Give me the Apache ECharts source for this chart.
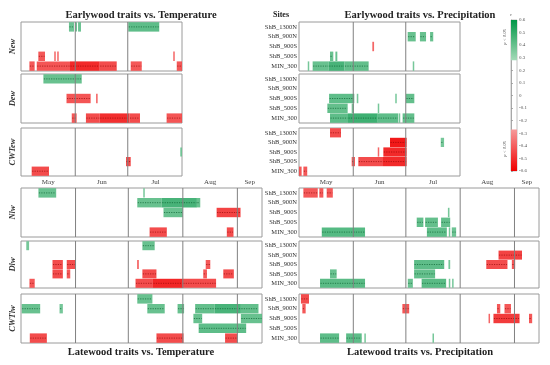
<!DOCTYPE html>
<html><head><meta charset="utf-8">
<script src="https://cdn.jsdelivr.net/npm/echarts@6.0.0/dist/echarts.min.js"></script>
<style>html,body{margin:0;padding:0;background:#fff}#c{width:550px;height:365px}</style>
</head><body><div id="c"></div>
<script>
// ---------- data ----------
const sites = ['ShB_1300N','ShB_900N','ShB_900S','ShB_500S','MIN_300'];
const months = ['May','Jun','Jul','Aug','Sep'];
const monthMid = [15.5, 46, 76.5, 107.5, 130];   // days since May 1
const monthBounds = [31, 61, 92, 123];
const earlyMaxDay = 92, lateMaxDay = 137;
const traitNames = ['New','Dew','CWTew','Nlw','Dlw','CWTlw'];
const titles = ['Earlywood traits vs. Temperature','Earlywood traits vs. Precipitation','Latewood traits vs. Temperature','Latewood traits vs. Precipitation'];
const cbarMin = -0.6, cbarMax = 0.6, cbarStep = 0.1;
const cbarBands = [[0.5, 0.28, 0.6], [0.5, -0.6, -0.27]];

// segments: [startDay, endDay, siteIndex, r]
const tempNew = [[27.4,30.3,0,0.42],[31,32,0,0.42],[32.6,34.3,0,0.42],[61.3,79,0,0.45],
 [9.9,13.7,3,-0.45],[19,19.6,3,-0.42],[20.7,21.5,3,-0.42],[87,87.8,3,-0.42],
 [4.8,7.8,4,-0.45],[9,28,4,-0.46],[28,45,4,-0.56],[45,54.7,4,-0.48],[62.7,69,4,-0.45],[89,92,4,-0.45]];
const tempDew = [[12.8,34.7,0,0.43],
 [26,39.8,2,-0.46],[42.9,43.8,2,-0.42],
 [29,31.8,4,-0.45],[37.1,45,4,-0.48],[45,62,4,-0.55],[62,68,4,-0.48],[83.2,92,4,-0.46]];
const tempCWTew = [[91,92,2,0.4],[60,62.7,3,-0.48],[6.1,16,4,-0.48]];
const tempNlw = [[9.9,20,0,0.43],[69.5,70,0,0.4],
 [66.1,80,1,0.43],[80,100,1,0.5],[100,101.9,1,0.43],
 [81,92,2,0.43],[111.2,124.8,2,-0.5],
 [73.1,82.9,4,-0.48],[117,120.8,4,-0.48]];
const tempDlw = [[3,4.6,0,0.4],[69,76,0,0.43],
 [17.9,23.8,2,-0.48],[26,30.9,2,-0.48],[66,67,2,-0.42],[105,107.6,2,-0.45],
 [17.9,23.8,3,-0.48],[26,28,3,-0.45],[69,77,3,-0.48],[103.6,105.7,3,-0.45],[115,121,3,-0.48],
 [4.8,7.8,4,-0.45],[65.1,75,4,-0.48],[75,92,4,-0.57],[92,110.9,4,-0.48]];
const tempCWTlw = [[66.1,74.7,0,0.43],
 [0.4,10.9,1,0.43],[21.9,23.8,1,0.4],[71.8,81.7,1,0.43],[89,92.7,1,0.43],[99,110,1,0.44],[110,125,1,0.5],[125,135,1,0.44],
 [98,103,2,0.43],[125,137,2,0.43],
 [101,128,3,0.45],
 [5,14.7,4,-0.48],[77,92.4,4,-0.48],[116,123,4,-0.48]];
const precEw1 = [[62.1,66.7,1,0.43],[69.1,72.6,1,0.43],[74.9,76.7,1,0.43],
 [41.9,42.9,2,-0.42],
 [17.7,19.6,3,0.43],[20.8,21.9,3,0.43],
 [5,5.7,4,0.4],[7.8,17,4,0.43],[17,26,4,0.5],[26,39.8,4,0.44],[65,65.7,4,0.4]];
const precEw2 = [[17.2,31.6,2,0.45],[33,33.9,2,0.4],[55,55.8,2,0.4],[61.1,65.9,2,0.44],
 [16.2,27.8,3,0.44],[30.1,31.4,3,0.4],[45,45.7,3,0.4],
 [17.7,28,4,0.45],[28,45,4,0.52],[45,56.7,4,0.45],[57,57.6,4,0.4],[59.2,65.9,4,0.44]];
const precEw3 = [[17.7,24,0,-0.48],
 [52,61.5,1,-0.6],[81,82.9,1,0.4],
 [45,45.7,2,-0.42],[48.2,61.5,2,-0.56],
 [30.1,32,3,-0.45],[33.9,48,3,-0.48],[48,61.5,3,-0.56],
 [0,1.5,4,-0.45],[2.5,4.7,4,-0.45]];
const precLw1 = [[2.5,10.7,0,-0.45],[11.6,13.9,0,-0.45],[15.8,19.3,0,-0.45],
 [85,85.9,2,0.4],
 [67.2,71,3,0.44],[72,79.3,3,0.44],[81.1,86.3,3,0.44],
 [13,37.7,4,0.47],[73,84.4,4,0.45],[85.5,86,4,0.4],[87.2,89.7,4,0.42]];
const precLw2 = [[113.9,127.3,1,-0.5],
 [65.7,82.9,2,0.45],[85.3,86.3,2,0.4],[106.9,119,2,-0.48],[121.5,123.4,2,-0.45],
 [17.7,21.5,3,0.43],[65.7,77.7,3,0.44],
 [12,37.7,4,0.46],[62.1,65,4,0.42],[70,84,4,0.46],[85.5,86,4,0.4],[87.4,88,4,0.4]];
const precLw3 = [[1.1,5.7,0,-0.48],
 [1.9,3.8,1,-0.45],[59,62.9,1,-0.45],[113,114.9,1,-0.45],[117.3,121,1,-0.45],
 [108.2,109,2,-0.42],[111,125.9,2,-0.52],[131.3,133.1,2,-0.45],
 [12,22.9,4,0.45],[26.9,35.8,4,0.45],[37.3,38.1,4,0.4],[76.2,77,4,0.4]];

const leftPanels = [tempNew, tempDew, tempCWTew, tempNlw, tempDlw, tempCWTlw];
const rightPanels = [precEw1, precEw2, precEw3, precLw1, precLw2, precLw3];

// ---------- layout ----------
const FONT = '"Liberation Serif","DejaVu Serif",serif';
const rowBoxes = [[22,49],[74,49],[128,48],[188,49],[241,47],[294,49]];
const colLeft = [21, 299];
const widthEarly = [161, 161], widthLate = [241, 240];

function clamp(t){return Math.max(0, Math.min(1, t));}
function mix(a, b, t){return 'rgb(' + a.map((v,i)=>Math.round(v + (b[i]-v)*t)).join(',') + ')';}
function colorOf(r){
  if (r >= 0) return mix([165,218,185],[0,150,70], clamp((r-0.28)/0.32));
  return mix([246,155,155],[240,0,0], clamp((-r-0.27)/0.33));
}
function darkOf(r){ return r >= 0 ? 'rgba(0,90,40,0.7)' : 'rgba(140,0,0,0.7)'; }

function segRender(params, api){
  const s = api.value(0), e = api.value(1), site = api.value(2), r = api.value(3);
  const p0 = api.coord([s, site]), p1 = api.coord([e, site]);
  const bh = api.size([0, 1])[1];
  const h = bh * 0.96;
  const cs = params.coordSys;
  let x = p0[0];
  let w = Math.max(p1[0] - p0[0], 1.5);
  if (x + w > cs.x + cs.width) w = cs.x + cs.width - x;
  const children = [{type:'rect', shape:{x:x, y:p0[1]-h/2, width:w, height:h}, style:{fill:colorOf(r), opacity:0.9}}];
  if (w > 3) children.push({type:'line', shape:{x1:x+0.5, y1:p0[1], x2:x+w-0.5, y2:p0[1]}, style:{stroke:darkOf(r), lineWidth:0.9, lineDash:[1.2,1.2]}});
  return {type:'group', children};
}
function lineRender(params, api){
  const p = api.coord([api.value(0), 0]);
  const cs = params.coordSys;
  return {type:'line', shape:{x1:p[0], y1:cs.y, x2:p[0], y2:cs.y+cs.height}, style:{stroke:'#808080', lineWidth:1}};
}

const grid = [], xAxis = [], yAxis = [], series = [];
for (let row = 0; row < 6; row++){
  for (let col = 0; col < 2; col++){
    const gi = grid.length;
    const late = row >= 3;
    const maxDay = late ? lateMaxDay : earlyMaxDay;
    grid.push({left: colLeft[col], top: rowBoxes[row][0], width: late ? widthLate[col] : widthEarly[col], height: rowBoxes[row][1],
      show: true, borderColor: '#9a9a9a', borderWidth: 1, backgroundColor: '#fff'});
    const showMonths = row === 3;
    xAxis.push({gridIndex: gi, type: 'value', min: 0, max: maxDay, position: showMonths ? 'top' : 'bottom',
      axisLine: {show: false}, axisTick: {show: false}, splitLine: {show: false},
      axisLabel: showMonths ? {show: true, customValues: monthMid, margin: 2, fontSize: 7, fontFamily: FONT, color: '#444',
        formatter: v => { const i = monthMid.findIndex(m => Math.abs(m - v) < 0.01); return i >= 0 ? months[i] : ''; }} : {show: false}});
    const y = {gridIndex: gi, type: 'category', data: sites, inverse: true,
      axisLine: {show: false}, axisTick: {show: false}, splitLine: {show: false}};
    if (col === 1) {
      y.axisLabel = {show: true, margin: 2, fontSize: 6.5, fontFamily: FONT, color: '#333'};
    } else {
      y.axisLabel = {show: false};
      y.name = traitNames[row]; y.nameLocation = 'middle'; y.nameRotate = 90; y.nameGap = 4;
      y.nameTextStyle = {fontSize: 8.5, fontFamily: FONT, fontStyle: 'italic', fontWeight: 'bold', color: '#333'};
    }
    yAxis.push(y);
    const data = col === 0 ? leftPanels[row] : rightPanels[row];
    series.push({type: 'custom', xAxisIndex: gi, yAxisIndex: gi, encode: {x: [0,1], y: 2}, data: data, renderItem: segRender, z: 2, silent: true});
    series.push({type: 'custom', xAxisIndex: gi, yAxisIndex: gi, encode: {x: 0, y: 1},
      data: monthBounds.filter(d => d < maxDay).map(d => [d, 0]), renderItem: lineRender, z: 3, silent: true});
  }
}
// colour bar
const cg = grid.length;
grid.push({left: 511, top: 20, width: 6, height: 151, show: true, borderColor: '#b0b0b0', borderWidth: 0.8});
xAxis.push({gridIndex: cg, type: 'value', min: 0, max: 1, show: false});
yAxis.push({gridIndex: cg, type: 'value', min: cbarMin, max: cbarMax, interval: cbarStep, position: 'right',
  axisLine: {show: true, lineStyle: {color: '#999', width: 0.8}}, axisTick: {show: true, length: 2, lineStyle: {color: '#999', width: 0.8}},
  splitLine: {show: false}, axisLabel: {fontSize: 5, margin: 2, color: '#555', fontFamily: FONT, formatter: v => String(Math.round(v*10)/10)},
  name: 'r', nameGap: 3, nameTextStyle: {fontSize: 5, color: '#555', fontFamily: FONT}});
series.push({type: 'custom', xAxisIndex: cg, yAxisIndex: cg, encode: {x: 0, y: [1,2]}, data: cbarBands, silent: true,
  renderItem: function(params, api){
    const lo = api.value(1), hi = api.value(2);
    const pTop = api.coord([0, hi]), pBot = api.coord([0, lo]);
    const cs = params.coordSys;
    const stops = [{offset:0, color:colorOf(hi)},{offset:1, color:colorOf(lo)}];
    return {type:'rect', shape:{x:cs.x, y:pTop[1], width:cs.width, height:pBot[1]-pTop[1]},
      style:{fill: new echarts.graphic.LinearGradient(0,0,0,1, stops)}};
  }});

const graphic = [
  {type:'text', x:141, y:15, style:{text:titles[0], font:'bold 10.5px '+FONT, fill:'#222', textAlign:'center', textVerticalAlign:'middle'}},
  {type:'text', x:420, y:15, style:{text:titles[1], font:'bold 10.5px '+FONT, fill:'#222', textAlign:'center', textVerticalAlign:'middle'}},
  {type:'text', x:141, y:352, style:{text:titles[2], font:'bold 10.5px '+FONT, fill:'#222', textAlign:'center', textVerticalAlign:'middle'}},
  {type:'text', x:420, y:352, style:{text:titles[3], font:'bold 10.5px '+FONT, fill:'#222', textAlign:'center', textVerticalAlign:'middle'}},
  {type:'text', x:281, y:15, style:{text:'Sites', font:'bold 8px '+FONT, fill:'#222', textAlign:'center', textVerticalAlign:'middle'}},
  {type:'text', x:505, y:37, rotation:Math.PI/2, style:{text:'p < 0.05', font:'italic 4.5px '+FONT, fill:'#444', textAlign:'center', textVerticalAlign:'middle'}},
  {type:'text', x:505, y:149, rotation:Math.PI/2, style:{text:'p < 0.05', font:'italic 4.5px '+FONT, fill:'#444', textAlign:'center', textVerticalAlign:'middle'}}
];

const chart = echarts.init(document.getElementById('c'), null, {renderer:'canvas'});
chart.setOption({animation:false, backgroundColor:'#fff', grid, xAxis, yAxis, series, graphic});
</script></body></html>
